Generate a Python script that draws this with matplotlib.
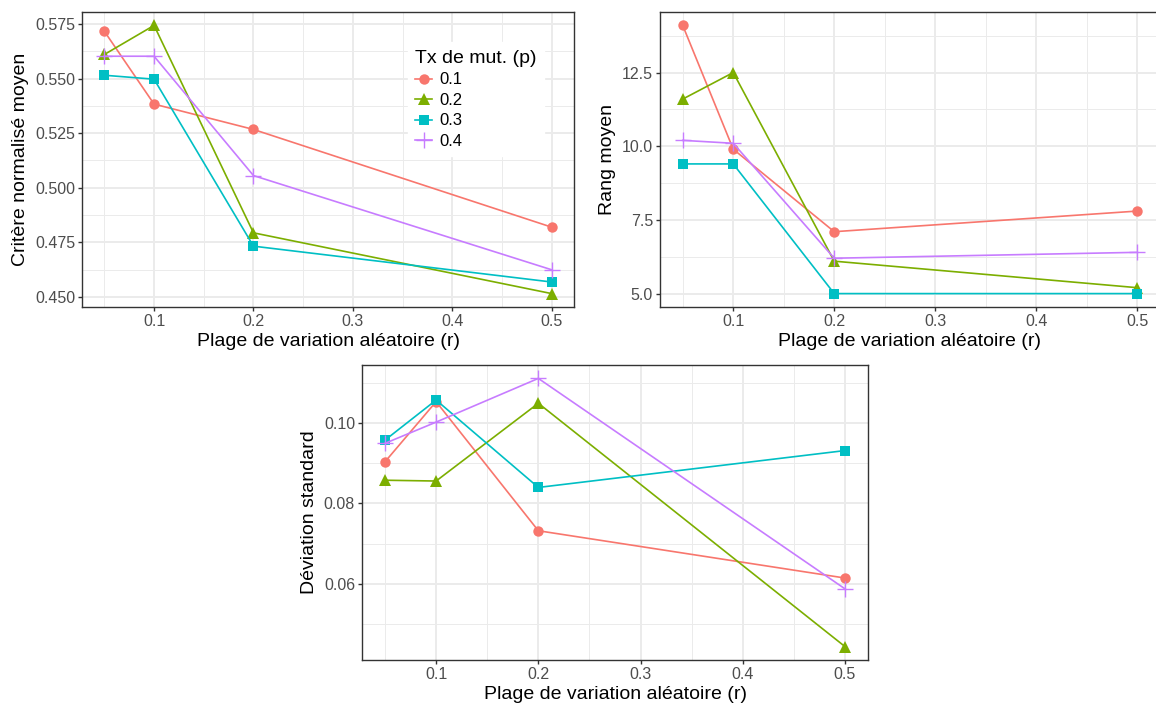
import numpy as np
import matplotlib
matplotlib.use("Agg")
import matplotlib.pyplot as plt
from matplotlib.ticker import FixedLocator

plt.rcParams['font.family'] = ['Liberation Sans', 'DejaVu Sans']

# Data
r_values = [0.05, 0.1, 0.2, 0.5]
p_labels = ['0.1', '0.2', '0.3', '0.4']

critere = {
    '0.1': [0.5716, 0.5383, 0.5267, 0.4820],
    '0.2': [0.5610, 0.5743, 0.4794, 0.4516],
    '0.3': [0.5515, 0.5497, 0.4733, 0.4569],
    '0.4': [0.5602, 0.5602, 0.5056, 0.4625],
}
rang = {
    '0.1': [14.1, 9.9, 7.1, 7.8],
    '0.2': [11.6, 12.5, 6.1, 5.2],
    '0.3': [9.4, 9.4, 5.0, 5.0],
    '0.4': [10.2, 10.1, 6.2, 6.4],
}
deviation = {
    '0.1': [0.0904, 0.1054, 0.0732, 0.0614],
    '0.2': [0.0858, 0.0856, 0.1050, 0.0443],
    '0.3': [0.0958, 0.1058, 0.0840, 0.0932],
    '0.4': [0.0950, 0.1003, 0.1112, 0.0587],
}

colors = ['#F8766D', '#7CAE00', '#00BFC4', '#C77CFF']
markers = ['o', '^', 's', '+']
msizes = [7.5, 8.5, 7.5, 11]

x_major = [0.1, 0.2, 0.3, 0.4, 0.5]
x_minor = [0.05, 0.15, 0.25, 0.35, 0.45]


def style_axes(ax, y_major, y_minor, y_fmt):
    ax.set_facecolor('white')
    ax.margins(x=0.05, y=0.05)
    ax.xaxis.set_major_locator(FixedLocator(x_major))
    ax.xaxis.set_minor_locator(FixedLocator(x_minor))
    ax.yaxis.set_major_locator(FixedLocator(y_major))
    ax.yaxis.set_minor_locator(FixedLocator(y_minor))
    ax.set_xticklabels([str(v) for v in x_major])
    ax.set_yticklabels([y_fmt.format(v) for v in y_major])
    ax.grid(which='major', color='#EBEBEB', linewidth=1.4, zorder=0)
    ax.grid(which='minor', color='#EBEBEB', linewidth=0.7, zorder=0)
    ax.set_axisbelow(True)
    for s in ax.spines.values():
        s.set_color('#333333')
        s.set_linewidth(1.0)
    ax.tick_params(which='major', length=3.0, width=1.0, color='#333333',
                   labelsize=11.5, labelcolor='#4D4D4D', pad=2)
    ax.tick_params(which='minor', length=0)
    ax.set_xlabel('Plage de variation aléatoire (r)', fontsize=14, labelpad=3)


def draw(ax, data):
    for p, c, m, ms in zip(p_labels, colors, markers, msizes):
        ax.plot(r_values, data[p], color=c, linewidth=1.2, marker=m,
                markersize=ms, markeredgewidth=1.0 if m == '+' else 0.0,
                markeredgecolor=c, label=p, zorder=3)


fig = plt.figure(figsize=(11.56, 7.04), dpi=100)

ax1 = fig.add_axes([82 / 1156, 1 - 307 / 704, 492 / 1156, 295 / 704])
ax2 = fig.add_axes([660 / 1156, 1 - 307 / 704, 500 / 1156, 295 / 704])
ax3 = fig.add_axes([362 / 1156, 1 - 660 / 704, 506 / 1156, 295 / 704])

draw(ax1, critere)
style_axes(ax1, [0.450, 0.475, 0.500, 0.525, 0.550, 0.575],
           [0.4625, 0.4875, 0.5125, 0.5375, 0.5625], '{:.3f}')
ax1.set_ylabel('Critère normalisé moyen', fontsize=14, labelpad=4)

draw(ax2, rang)
style_axes(ax2, [5.0, 7.5, 10.0, 12.5], [6.25, 8.75, 11.25, 13.75], '{:.1f}')
ax2.set_ylabel('Rang moyen', fontsize=14, labelpad=4)

draw(ax3, deviation)
style_axes(ax3, [0.06, 0.08, 0.10], [0.05, 0.07, 0.09, 0.11], '{:.2f}')
ax3.set_ylabel('Déviation standard', fontsize=14, labelpad=4)

leg = ax1.legend(title='Tx de mut. (p)', loc='upper left',
                 bbox_to_anchor=(0.645, 0.925), frameon=True, fancybox=False,
                 edgecolor='white', framealpha=1.0, fontsize=12,
                 title_fontsize=14, handlelength=1.0, handletextpad=0.45,
                 labelspacing=0.33, borderpad=0.45)
leg._legend_box.align = 'left'

fig.savefig('out.png', dpi=100)
